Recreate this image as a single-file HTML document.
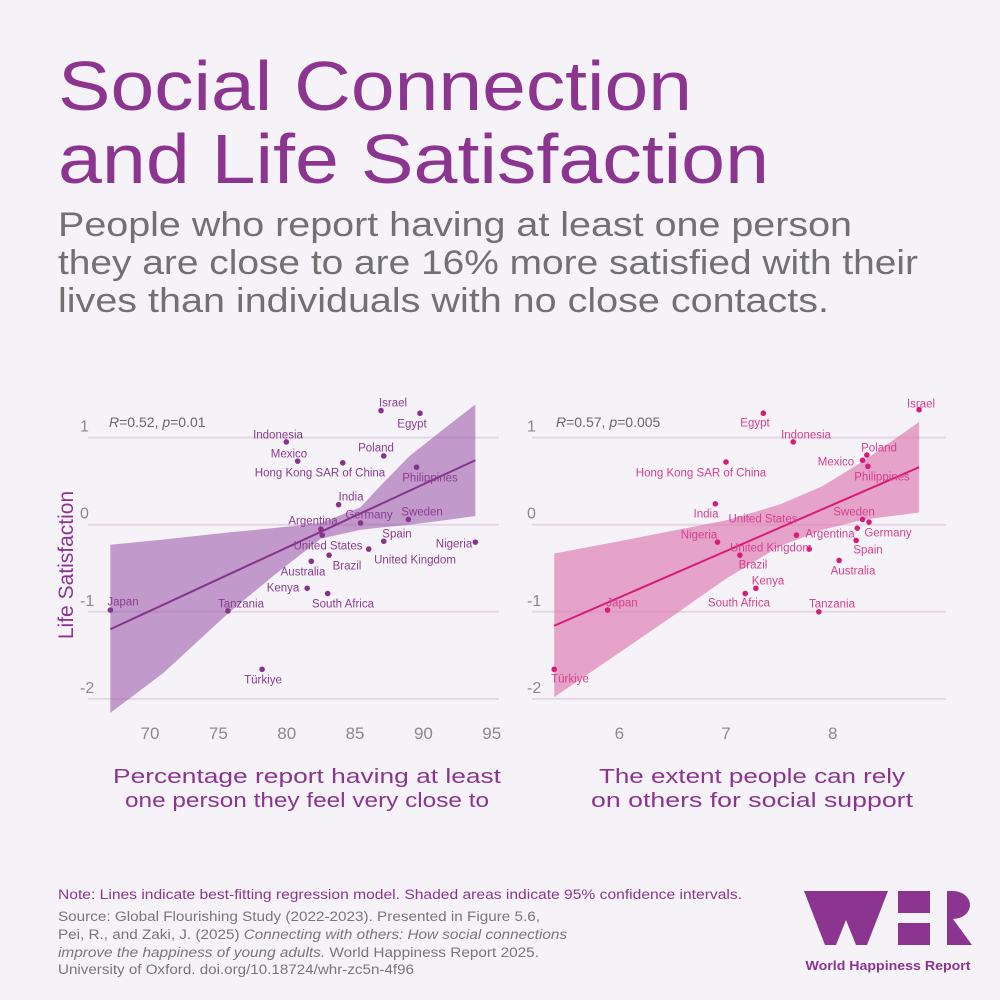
<!DOCTYPE html>
<html><head><meta charset="utf-8">
<style>
body{margin:0;background:#f6f3f8;}
svg{display:block;font-family:"Liberation Sans",sans-serif;}
</style></head>
<body>
<svg id="root" width="1000" height="1000" viewBox="0 0 1000 1000">
<rect x="0" y="0" width="1000" height="1000" fill="#f6f3f8"/>
<g fill="#8b3591" font-size="70" font-weight="500">
<text x="58" y="110" textLength="634" lengthAdjust="spacingAndGlyphs">Social Connection</text>
<text x="58" y="183" textLength="711" lengthAdjust="spacingAndGlyphs">and Life Satisfaction</text>
</g>
<g fill="#717171" font-size="34">
<text x="58" y="236" textLength="794" lengthAdjust="spacingAndGlyphs">People who report having at least one person</text>
<text x="58" y="274" textLength="860" lengthAdjust="spacingAndGlyphs">they are close to are 16% more satisfied with their</text>
<text x="58" y="312" textLength="771" lengthAdjust="spacingAndGlyphs">lives than individuals with no close contacts.</text>
</g>
<text transform="translate(73,565) rotate(-90)" text-anchor="middle" font-size="21" fill="#8b3591">Life Satisfaction</text>
<g id="left"></g>
<g id="right"></g>
<g fill="#8b3591" font-size="20" text-anchor="middle">
<text x="307" y="783" textLength="388" lengthAdjust="spacingAndGlyphs">Percentage report having at least</text>
<text x="307" y="807" textLength="364" lengthAdjust="spacingAndGlyphs">one person they feel very close to</text>
</g>
<g fill="#8b3591" font-size="20" text-anchor="middle">
<text x="752" y="783" textLength="306" lengthAdjust="spacingAndGlyphs">The extent people can rely</text>
<text x="752" y="807" textLength="322" lengthAdjust="spacingAndGlyphs">on others for social support</text>
</g>
<text x="58" y="899" font-size="13.5" fill="#8b3591" textLength="684" lengthAdjust="spacingAndGlyphs">Note: Lines indicate best-fitting regression model. Shaded areas indicate 95% confidence intervals.</text>
<g fill="#777" font-size="13.5">
<text x="58" y="921" textLength="482" lengthAdjust="spacingAndGlyphs">Source: Global Flourishing Study (2022-2023). Presented in Figure 5.6,</text>
<text x="58" y="939" textLength="509" lengthAdjust="spacingAndGlyphs">Pei, R., and Zaki, J. (2025) <tspan font-style="italic">Connecting with others: How social connections</tspan></text>
<text x="58" y="957" textLength="481" lengthAdjust="spacingAndGlyphs"><tspan font-style="italic">improve the happiness of young adults.</tspan> World Happiness Report 2025.</text>
<text x="58" y="974" textLength="356" lengthAdjust="spacingAndGlyphs">University of Oxford. doi.org/10.18724/whr-zc5n-4f96</text>
</g>
<g fill="#8b3591">
<polygon points="804,891 888,891 867,945 856,945 846,920 836,945 825,945"/>
<rect x="898" y="891" width="32" height="22"/>
<rect x="898" y="923" width="32" height="22"/>
<path d="M947 891 h6 a17 14 0 0 1 0 28 L972 945 H947 Z"/>
<text x="888" y="970" text-anchor="middle" font-size="13" font-weight="bold" textLength="165" lengthAdjust="spacingAndGlyphs">World Happiness Report</text>
</g>
</svg>
<script>
// ---------- data ----------
const countries = ["Israel","Egypt","Indonesia","Mexico","Hong Kong SAR of China","Poland","Philippines","India","Germany","Sweden","Argentina","United States","Spain","Nigeria","United Kingdom","Brazil","Australia","Kenya","South Africa","Japan","Tanzania","Türkiye"];
const lifeSatisfaction = [1.31,1.28,0.95,0.73,0.71,0.79,0.66,0.23,0.02,0.06,-0.05,-0.12,-0.19,-0.20,-0.28,-0.35,-0.42,-0.73,-0.79,-0.98,-0.99,-1.66];
const closePersonPct = [86.9,89.75,79.97,80.8,84.1,87.1,89.5,83.8,85.4,88.9,82.5,82.6,87.1,93.8,86.0,83.1,81.8,81.5,83.0,67.1,75.7,78.2];
const lifeSatisfactionR = [1.32,1.28,0.95,0.74,0.72,0.80,0.67,0.24,0.03,0.06,-0.04,-0.12,-0.18,-0.20,-0.28,-0.35,-0.41,-0.73,-0.79,-0.98,-1.00,-1.66];
const socialSupport = [8.81,7.35,7.63,8.28,7.0,8.32,8.33,6.90,8.34,8.28,8.23,7.66,8.22,6.92,7.78,7.13,8.06,7.28,7.18,5.89,7.87,5.39];
const leftFitX = [67.1,93.8];
const leftFitY = [-1.20,0.74];
const leftBandX = [67.1,71,75.7,79,82.5,85.4,87,89,91.5,93.8];
const leftBandHi = [-0.23,-0.17,-0.09,-0.04,0.02,0.2,0.47,0.79,1.1,1.38];
const leftBandLo = [-2.16,-1.70,-1.02,-0.59,-0.16,-0.06,-0.03,0.0,0.05,0.10];
const rightFitX = [5.39,8.81];
const rightFitY = [-1.16,0.66];
const rightBandX = [5.39,6,6.5,7,7.5,7.9,8.3,8.81];
const rightBandHi = [-0.33,-0.19,-0.07,0.05,0.23,0.44,0.74,1.18];
const rightBandLo = [-1.98,-1.47,-1.05,-0.62,-0.25,-0.06,0.06,0.14];
const leftXTicks = [70,75,80,85,90,95];
const rightXTicks = [6,7,8];
const yTicks = [1,0,-1,-2];
// label layout (pixel positions, not data)
const leftLabelPos = [[393,402],[412,423],[278,434],[289,453],[320,472],[376,447],[430,477],[351,496],[369,514],[422,511],[313,520],[328,545],[397,533],[454,543],[415,559],[347,565],[303,571],[283,587],[343,603],[123,601],[241,603],[263,679]];
const rightLabelPos = [[921,403],[755,422],[806,434],[836,461],[701,472],[879,447],[882,476],[706,513],[888,532],[854,511],[830,533],[763,518],[868,549],[699,534],[771,547],[753,564],[853,570],[768,580],[739,602],[622,602],[832,603],[570,678]];

const NS = "http://www.w3.org/2000/svg";
function el(tag, attrs, parent){const e=document.createElementNS(NS,tag);for(const k in attrs)e.setAttribute(k,attrs[k]);parent.appendChild(e);return e;}
const yS = v => 524.7 - v*87.1;

function drawChart(g, cfg){
  const xS = cfg.xS;
  yTicks.forEach(t=>{
    const l = el('line',{x1:cfg.gx0,x2:cfg.gx1,y1:yS(t),y2:yS(t),stroke:'#e3d6e4','stroke-width':2},g);
    
    
    const tx = el('text',{x:cfg.tickX,y:yS(t)-6,'font-size':16,fill:'#8a8a8a'},g);
    tx.textContent = String(t);
    
    
  });
  cfg.xTicks.forEach(t=>{
    const tx = el('text',{x:xS(t),y:739,'font-size':17,fill:'#8a8a8a','text-anchor':'middle'},g);
    tx.textContent = String(t);
    
    
  });
  let d='';
  cfg.bandX.forEach((x,i)=>{d+=(i?'L':'M')+xS(x)+','+yS(cfg.bandHi[i]);});
  for(let i=cfg.bandX.length-1;i>=0;i--) d+='L'+xS(cfg.bandX[i])+','+yS(cfg.bandLo[i]);
  const band = el('path',{d:d+'Z',fill:cfg.bandColor},g);
  
  
  const fl = el('line',{x1:xS(cfg.fitX[0]),y1:yS(cfg.fitY[0]),x2:xS(cfg.fitX[1]),y2:yS(cfg.fitY[1]),stroke:cfg.color,'stroke-width':2},g);
  
  
  countries.forEach((c,i)=>{
    const p = el('circle',{cx:xS(cfg.xs[i]),cy:yS(cfg.ys[i]),r:2.8,fill:cfg.color},g);
    
    
    const t = el('text',{x:cfg.labels[i][0],y:cfg.labels[i][1]+4.5,'font-size':11.5,fill:cfg.labelColor,'text-anchor':'middle'},g);
    t.textContent = c;
    
    
  });
  const st = el('text',{x:cfg.statX,y:427,'font-size':14,fill:'#6d6470'},g);
  st.innerHTML = '<tspan font-style="italic">R</tspan>='+cfg.r+', <tspan font-style="italic">p</tspan>='+cfg.p;
  
  
}
drawChart(document.getElementById('left'),{
  xS:v=>150+(v-70)*13.67, gx0:88, gx1:499, tickX:80, xTicks:leftXTicks,
  bandX:leftBandX,bandHi:leftBandHi,bandLo:leftBandLo,fitX:leftFitX,fitY:leftFitY,
  xs:closePersonPct, ys:lifeSatisfaction, labels:leftLabelPos,
  color:'#86338b', bandColor:'rgba(150,80,165,0.55)', labelColor:'#8a3d8f', statX:109, r:'0.52', p:'0.01'
});
drawChart(document.getElementById('right'),{
  xS:v=>619.3+(v-6)*106.7, gx0:532, gx1:946, tickX:527, xTicks:rightXTicks,
  bandX:rightBandX,bandHi:rightBandHi,bandLo:rightBandLo,fitX:rightFitX,fitY:rightFitY,
  xs:socialSupport, ys:lifeSatisfactionR, labels:rightLabelPos,
  color:'#d81b78', bandColor:'rgba(220,110,170,0.6)', labelColor:'#d5408f', statX:556, r:'0.57', p:'0.005'
});
</script>
</body></html>
